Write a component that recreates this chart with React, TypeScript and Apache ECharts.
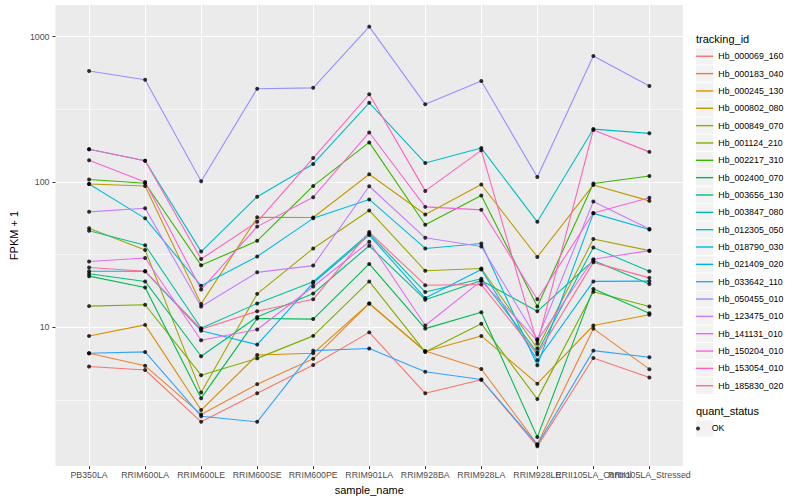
import React, { useEffect, useRef } from "react";
import * as echarts from "echarts";

const categories = [
  "PB350LA", "RRIM600LA", "RRIM600LE", "RRIM600SE", "RRIM600PE", "RRIM901LA",
  "RRIM928BA", "RRIM928LA", "RRIM928LE", "RRII105LA_Control", "RRII105LA_Stressed",
];

const Hb_000069_160 = [5.38, 5.09, 2.24, 3.52, 5.51, 9.24, 3.52, 4.36, 1.52, 6.15, 4.52];
const Hb_000183_040 = [6.63, 5.44, 2.52, 4.07, 6.08, 14.6, 6.87, 5.17, 1.57, 9.8, 5.16];
const Hb_000245_130 = [8.73, 10.4, 2.7, 6.46, 6.63, 14.6, 6.82, 8.73, 4.1, 10.3, 12.2];
const Hb_000802_080 = [96.9, 93.9, 14.5, 57.1, 57.0, 113, 59.8, 96.0, 30.5, 95.4, 74.1];
const Hb_000849_070 = [48.0, 34.1, 3.57, 17.0, 34.9, 63.7, 24.5, 25.4, 7.15, 40.5, 33.7];
const Hb_001124_210 = [14.0, 14.3, 4.69, 6.12, 8.74, 20.7, 6.76, 10.6, 3.21, 17.6, 13.9];
const Hb_002217_310 = [104, 98.0, 26.7, 39.4, 93.9, 187, 50.8, 80.7, 13.9, 97.5, 110];
const Hb_002400_070 = [22.5, 18.8, 3.26, 11.5, 11.4, 27.3, 9.8, 12.7, 1.76, 18.4, 12.5];
const Hb_003656_130 = [23.4, 20.7, 6.33, 11.8, 17.1, 36.4, 15.5, 21.0, 12.9, 28.8, 19.9];
const Hb_003847_080 = [46.2, 36.7, 9.87, 14.6, 20.6, 44.2, 17.5, 21.6, 6.71, 35.4, 24.3];
const Hb_012305_050 = [168, 140, 33.2, 79.2, 133, 350, 135, 171, 53.2, 231, 216];
const Hb_018790_030 = [96.9, 56.2, 19.3, 30.7, 56.2, 75.8, 34.9, 37.7, 5.49, 60.8, 47.1];
const Hb_021409_020 = [24.3, 24.3, 9.49, 7.61, 20.2, 43.1, 15.9, 25.0, 5.94, 20.7, 20.8];
const Hb_033642_110 = [6.63, 6.78, 2.45, 2.24, 6.92, 7.15, 4.95, 4.38, 1.56, 6.92, 6.23];
const Hb_050455_010 = [580, 505, 101, 438, 444, 1170, 342, 495, 108, 735, 457];
const Hb_123475_010 = [62.3, 66.0, 13.9, 23.9, 26.6, 93.4, 41.3, 36.0, 8.28, 73.4, 47.4];
const Hb_141131_010 = [28.4, 30.0, 8.15, 9.67, 19.1, 38.8, 10.3, 20.9, 8.11, 29.4, 33.7];
const Hb_150204_010 = [141, 100, 18.2, 49.3, 78.6, 219, 67.4, 64.3, 15.6, 61.1, 77.9];
const Hb_153054_010 = [168, 140, 29.5, 53.2, 146, 401, 86.8, 165, 7.73, 228, 161];
const Hb_185830_020 = [25.8, 24.3, 9.72, 12.9, 15.6, 45.2, 19.5, 19.7, 6.5, 28.0, 21.9];

const trackingIds = [
  "Hb_000069_160", "Hb_000183_040", "Hb_000245_130", "Hb_000802_080", "Hb_000849_070",
  "Hb_001124_210", "Hb_002217_310", "Hb_002400_070", "Hb_003656_130", "Hb_003847_080",
  "Hb_012305_050", "Hb_018790_030", "Hb_021409_020", "Hb_033642_110", "Hb_050455_010",
  "Hb_123475_010", "Hb_141131_010", "Hb_150204_010", "Hb_153054_010", "Hb_185830_020",
];

const seriesValues = [
  Hb_000069_160, Hb_000183_040, Hb_000245_130, Hb_000802_080, Hb_000849_070,
  Hb_001124_210, Hb_002217_310, Hb_002400_070, Hb_003656_130, Hb_003847_080,
  Hb_012305_050, Hb_018790_030, Hb_021409_020, Hb_033642_110, Hb_050455_010,
  Hb_123475_010, Hb_141131_010, Hb_150204_010, Hb_153054_010, Hb_185830_020,
];

const palette = [
  "#F8766D", "#EA8331", "#D89000", "#C09B00", "#A3A500", "#7CAE00", "#39B600", "#00BB4E",
  "#00BF7D", "#00C1A3", "#00BFC4", "#00BAE0", "#00B0F6", "#35A2FF", "#9590FF", "#C77CFF",
  "#E76BF3", "#FA62DB", "#FF62BC", "#FF6C90",
];

const yTickValues = [10, 100, 1000];
const yMinorLog = [0.5, 1.5, 2.5];
const quantStatus = ["OK"];

export default function App() {
  const ref = useRef<HTMLDivElement>(null);

  useEffect(() => {
    if (!ref.current) return;
    const chart = echarts.init(ref.current, null, { renderer: "svg" });
    const font = "'Liberation Sans', Arial, Helvetica, sans-serif";
    const xIdx = categories.map((_, i) => i + 1);
    const xOdd = xIdx.filter((v) => v % 2 === 1);
    const xEven = xIdx.filter((v) => v % 2 === 0);
    const yMinLog = 0.0459;
    const yMaxLog = 3.217;
    const catLabel = (v: number) => categories[Math.round(v) - 1] ?? "";

    const lineSeries = trackingIds.map((id, i) => ({
      name: id,
      type: "line",
      data: seriesValues[i].map((v, j) => [j + 1, Math.log10(v)]),
      symbol: "none",
      color: palette[i],
      lineStyle: { width: 1.1, color: palette[i] },
      silent: true,
      z: 2,
    }));

    const points: number[][] = [];
    seriesValues.forEach((arr) => arr.forEach((v, j) => points.push([j + 1, Math.log10(v)])));

    const legendTop = 47.6;
    const legendStep = 17.34;
    const keyRects: any[] = trackingIds.map((_, i) => ({
      type: "rect",
      shape: { x: 696, y: legendTop + i * legendStep + 0.5, width: 17.3, height: legendStep - 1 },
      style: { fill: "#F2F2F2" },
      z: 1,
    }));
    keyRects.push({
      type: "rect",
      shape: { x: 696, y: 420.3, width: 17.3, height: legendStep - 1 },
      style: { fill: "#F2F2F2" },
      z: 1,
    });

    const labelStyle = {
      fontSize: 8.8,
      color: "#4D4D4D",
      margin: 4,
      fontFamily: font,
      formatter: catLabel,
      showMinLabel: true,
      showMaxLabel: true,
      hideOverlap: false,
    };

    chart.setOption({
      animation: false,
      backgroundColor: "#FFFFFF",
      textStyle: { fontFamily: font },
      grid: {
        left: 45,
        right: 117,
        top: 5,
        bottom: 32,
        show: true,
        backgroundColor: "#EBEBEB",
        borderWidth: 0,
      },
      xAxis: [
        {
          type: "value",
          min: 0.4,
          max: 11.6,
          position: "bottom",
          name: "sample_name",
          nameLocation: "middle",
          nameGap: 13,
          nameTextStyle: { fontSize: 11, color: "#000000", fontFamily: font },
          axisLine: { show: false },
          axisTick: { show: true, length: 3, customValues: xIdx, lineStyle: { color: "#333333", width: 1 } },
          axisLabel: { ...labelStyle, customValues: xOdd },
          splitLine: { show: true, lineStyle: { color: "#FFFFFF", width: 1.07 } },
        },
        {
          type: "value",
          min: 0.4,
          max: 11.6,
          position: "bottom",
          offset: 0,
          axisLine: { show: false },
          axisTick: { show: false, customValues: xEven },
          axisLabel: { ...labelStyle, customValues: xEven },
          splitLine: { show: false },
        },
      ],
      yAxis: [
        {
          type: "value",
          min: yMinLog,
          max: yMaxLog,
          name: "FPKM + 1",
          nameLocation: "middle",
          nameGap: 26,
          nameTextStyle: { fontSize: 11, color: "#000000", fontFamily: font },
          axisLine: { show: false },
          axisTick: {
            show: true,
            length: 3,
            customValues: yTickValues.map((v) => Math.log10(v)),
            lineStyle: { color: "#333333", width: 1 },
          },
          axisLabel: {
            customValues: yTickValues.map((v) => Math.log10(v)),
            formatter: (v: number) => String(Math.round(Math.pow(10, v))),
            fontSize: 8.8,
            color: "#4D4D4D",
            margin: 6,
            fontFamily: font,
            showMinLabel: true,
            showMaxLabel: true,
          },
          splitLine: { show: true, lineStyle: { color: "#FFFFFF", width: 1.07 } },
        },
        {
          type: "value",
          min: yMinLog,
          max: yMaxLog,
          position: "left",
          axisLine: { show: false },
          axisTick: { show: false, customValues: yMinorLog },
          axisLabel: { show: false, customValues: yMinorLog },
          splitLine: { show: true, lineStyle: { color: "#FFFFFF", width: 0.55 } },
        },
      ],
      legend: [
        {
          data: trackingIds,
          orient: "vertical",
          left: 696,
          top: legendTop,
          padding: 0,
          itemGap: 0,
          itemWidth: 17.3,
          itemHeight: 1.4,
          icon: "rect",
          selectedMode: false,
          z: 5,
          textStyle: { fontSize: 8.8, color: "#000000", fontFamily: font, lineHeight: legendStep },
        },
        {
          data: quantStatus,
          orient: "vertical",
          left: 696,
          top: 419.8,
          padding: 0,
          itemGap: 0,
          itemWidth: 17.3,
          itemHeight: 4,
          icon: "circle",
          selectedMode: false,
          z: 5,
          textStyle: { fontSize: 8.8, color: "#000000", fontFamily: font, lineHeight: legendStep },
        },
      ],
      graphic: [
        ...keyRects,
        {
          type: "text",
          left: 696,
          top: 33,
          style: { text: "tracking_id", fontSize: 11, fill: "#000000", font: `11px ${font}` },
        },
        {
          type: "text",
          left: 696,
          top: 405,
          style: { text: "quant_status", fontSize: 11, fill: "#000000", font: `11px ${font}` },
        },
      ],
      series: [
        ...lineSeries,
        {
          name: "OK",
          type: "scatter",
          data: points,
          symbol: "circle",
          symbolSize: 4,
          itemStyle: { color: "#000000" },
          silent: true,
          z: 3,
        },
      ],
    });

    return () => chart.dispose();
  }, []);

  return (
    <div
      ref={ref}
      style={{ position: "fixed", left: 0, top: 0, width: 800, height: 500 }}
    />
  );
}
